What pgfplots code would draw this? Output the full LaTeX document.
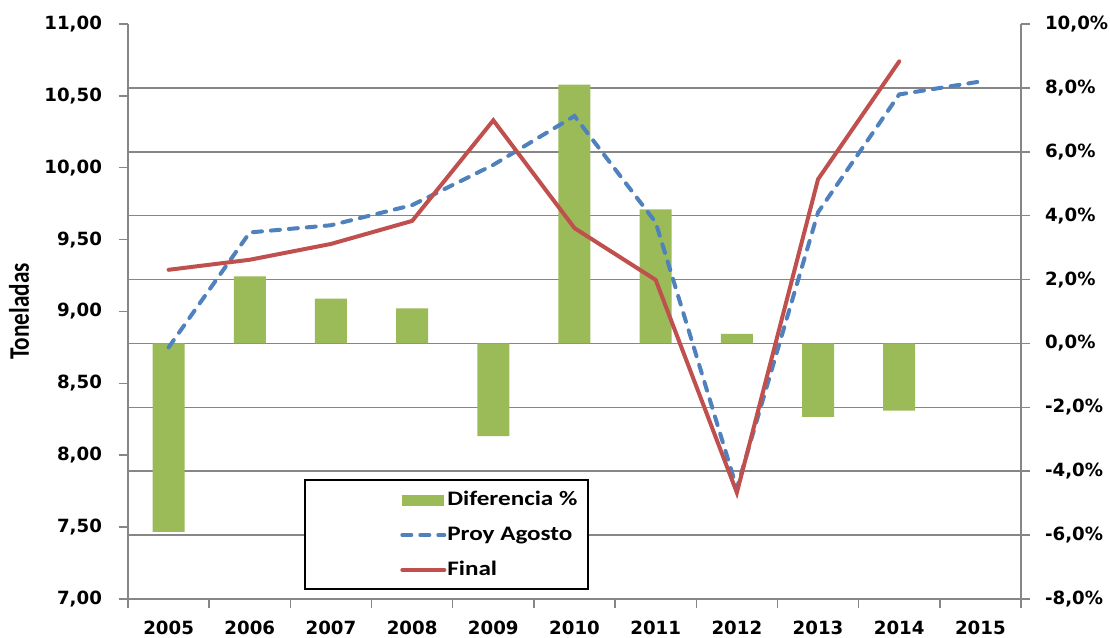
\documentclass[border=0pt]{standalone}
\usepackage{fontspec}
\setmainfont{Carlito}
\newfontfamily\tickfont{DejaVu Sans}
\usepackage{graphicx}
\usepackage{pgfplots}
\usepackage{pgfplotstable}
\pgfplotsset{compat=1.18}
\definecolor{bargreen}{HTML}{9BBB59}
\definecolor{lblue}{HTML}{4F81BD}
\definecolor{lred}{HTML}{C0504D}
\definecolor{axgray}{HTML}{868686}
\tikzset{
  bluestyle/.style={lblue, line width=2pt, line cap=round, dash pattern=on 4.5pt off 4.5pt},
  redstyle/.style={lred, line width=2pt, line cap=round},
}
\newcommand{\wide}[1]{\scalebox{1.22}[1]{#1}}

\pgfplotstableread{
x diff
0 -5.9
1 2.1
2 1.4
3 1.1
4 -2.9
5 8.1
6 4.2
7 0.3
8 -2.3
9 -2.1
}\difftable

\pgfplotstableread{
x proy
0 8.75
1 9.55
2 9.60
3 9.74
4 10.02
5 10.36
6 9.62
7 7.77
8 9.69
9 10.51
10 10.60
}\proytable

\pgfplotstableread{
x final
0 9.29
1 9.36
2 9.47
3 9.63
4 10.33
5 9.58
6 9.22
7 7.74
8 9.92
9 10.74
}\finaltable

\begin{document}
\begin{tikzpicture}
\pgfplotsset{
  common/.style={
    scale only axis, width=446.5pt, height=287.5pt,
    xmin=-0.5, xmax=10.5, at={(0,0)}, anchor=south west,
    axis line style={axgray, line width=0.75pt},
    tick style={axgray, line width=0.75pt},
    tick align=outside, major tick length=4.5pt,
    ticklabel style={font=\tickfont\bfseries\fontsize{9.1}{10}\selectfont},
    /pgf/number format/assume math mode=true,
  },
}
\begin{axis}[common,
  axis x line*=bottom, axis y line*=right,
  ymin=-8, ymax=10,
  ytick={-8,-6,...,10},
  yticklabels={{-8,0\%},{-6,0\%},{-4,0\%},{-2,0\%},{0,0\%},{2,0\%},{4,0\%},{6,0\%},{8,0\%},{10,0\%}},
  yticklabel style={xshift=4pt},
  xtick={-0.5,0.5,...,10.5}, xticklabels={},
  extra y ticks={-6,-4,...,8}, extra y tick labels={},
  extra y tick style={grid=major},
  grid style={axgray, line width=0.75pt},
  ybar, bar width=16pt,
]
\addplot[fill=bargreen, draw=none] table[x=x, y=diff] {\difftable};
\end{axis}

\begin{axis}[common,
  axis x line*=bottom, axis y line*=left,
  ymin=7, ymax=11,
  ytick={7,7.5,...,11},
  yticklabels={{7,00},{7,50},{8,00},{8,50},{9,00},{9,50},{10,00},{10,50},{11,00}},
  yticklabel style={xshift=-5pt},
  xtick={0,...,10},
  xticklabels={2005,2006,2007,2008,2009,2010,2011,2012,2013,2014,2015},
  xtick style={draw=none},
  xticklabel style={yshift=-3pt},
  every axis y label/.style={at={(axis description cs:-0.1221,0.5)}, rotate=90, anchor=center},
  ylabel={\bfseries\fontsize{11.6}{13}\selectfont\scalebox{1}[1.22]{Toneladas}},
  legend style={at={(rel axis cs:0.3045,0.1113)}, anchor=west, draw=none, fill=none,
    font=\bfseries\fontsize{10.3}{12}\selectfont, inner sep=0pt, row sep=5pt,
    nodes={inner xsep=0.5pt}},
  legend cell align=left,
]
\draw[black, line width=0.8pt, fill=white] (rel axis cs:0.1982,0.0174) rectangle (rel axis cs:0.5151,0.207);
\addlegendimage{legend image code/.code={\fill[bargreen] (0pt,-2.5pt) rectangle (20.5pt,2.5pt);}}
\addlegendentry{\wide{Diferencia \%}}
\addplot[bluestyle, legend image code/.code={\draw[bluestyle] (0pt,0pt) -- (21pt,0pt);}]
  table[x=x, y=proy] {\proytable};
\addlegendentry{\wide{Proy Agosto}}
\addplot[redstyle, legend image code/.code={\draw[redstyle] (0pt,0pt) -- (21pt,0pt);}]
  table[x=x, y=final] {\finaltable};
\addlegendentry{\wide{Final}}
\end{axis}
\pgfresetboundingbox
\useasboundingbox (-64pt,-19.5pt) rectangle (491pt,299.5pt);
\end{tikzpicture}
\end{document}
